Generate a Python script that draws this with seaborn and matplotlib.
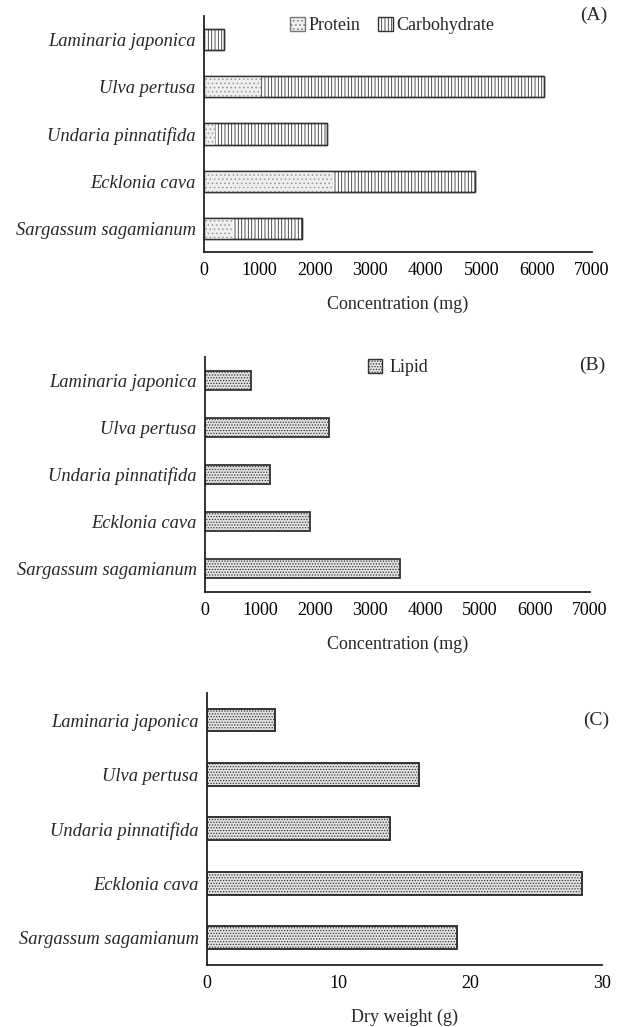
import matplotlib
matplotlib.use("Agg")
import matplotlib.pyplot as plt
import seaborn as sns
import pandas as pd
from matplotlib.patches import Patch

sns.set_theme(style="white")
plt.rcParams["font.family"] = ["Liberation Serif", "DejaVu Serif"]
plt.rcParams["hatch.linewidth"] = 0.6

species = ["Laminaria japonica", "Ulva pertusa", "Undaria pinnatifida",
           "Ecklonia cava", "Sargassum sagamianum"]
protein = [30, 1030, 200, 2330, 500]
carbohydrate = [330, 5110, 2020, 2560, 1270]
lipid = [840, 2250, 1180, 1910, 3545]
dry_weight = [5.2, 16.1, 13.9, 28.5, 19.0]

totals = [p + c for p, c in zip(protein, carbohydrate)]
df = pd.DataFrame({"species": species, "protein": protein, "total": totals,
                   "lipid": lipid, "dry": dry_weight})

fig = plt.figure(figsize=(6.23, 10.27), dpi=100)
axA = fig.add_axes([0.3274, 0.7546, 0.623, 0.2298])
axB = fig.add_axes([0.329, 0.4236, 0.618, 0.2288])
axC = fig.add_axes([0.332, 0.0604, 0.634, 0.265])

FS = 13.3
edge = "#333333"


def style(ax, xmax, ticks, xlabel):
    ax.set_xlim(0, xmax)
    ax.set_ylim(4.5, -0.5)
    ax.set_xticks(ticks)
    ax.set_xticklabels([str(t) for t in ticks], fontsize=13)
    ax.set_yticks(range(len(species)))
    ax.set_yticklabels(species, fontsize=FS, style="italic")
    ax.set_ylabel("")
    ax.set_xlabel(xlabel, fontsize=13, labelpad=12)
    for s in ["top", "right"]:
        ax.spines[s].set_visible(False)
    for s in ["left", "bottom"]:
        ax.spines[s].set_color("#222222")
        ax.spines[s].set_linewidth(1.3)
    ax.tick_params(axis="x", direction="in", length=4, color="#cccccc",
                   pad=7, labelcolor="black")
    ax.tick_params(axis="y", direction="out", length=0, pad=6)


# (A) stacked protein + carbohydrate
sns.barplot(data=df, y="species", x="total", orient="h", ax=axA,
            color="white", edgecolor=edge, linewidth=1.0, hatch="|||||",
            width=0.45, errorbar=None)
sns.barplot(data=df, y="species", x="protein", orient="h", ax=axA,
            color="#eeeeee", edgecolor="#9a9a9a", linewidth=0, hatch="....",
            width=0.45, errorbar=None)
# outline of each stacked bar
sns.barplot(data=df, y="species", x="total", orient="h", ax=axA,
            color=edge, fill=False, linewidth=1.0, width=0.45, errorbar=None)
style(axA, 7000, [0, 1000, 2000, 3000, 4000, 5000, 6000, 7000],
      "Concentration (mg)")
axA.legend(handles=[Patch(facecolor="#eeeeee", edgecolor="#777777", hatch="....", label="Protein"),
                    Patch(facecolor="white", edgecolor="#333333", hatch="|||||", label="Carbohydrate")],
           loc="upper left", bbox_to_anchor=(0.18, 1.065), ncol=2, frameon=False,
           fontsize=13, handlelength=0.8, handleheight=0.8,
           handletextpad=0.2, columnspacing=1.0)
axA.text(1.04, 1.04, "(A)", transform=axA.transAxes, ha="right", va="top",
         fontsize=14)

# (B) lipid
sns.barplot(data=df, y="species", x="lipid", orient="h", ax=axB,
            color="#e2e2e2", edgecolor=edge, linewidth=1.3, hatch="......",
            width=0.42, errorbar=None)
style(axB, 7000, [0, 1000, 2000, 3000, 4000, 5000, 6000, 7000],
      "Concentration (mg)")
axB.legend(handles=[Patch(facecolor="#e2e2e2", edgecolor=edge, hatch="......", label="Lipid")],
           loc="upper left", bbox_to_anchor=(0.38, 1.06), frameon=False,
           fontsize=13, handlelength=0.8, handleheight=0.8,
           handletextpad=0.4)
axB.text(1.04, 1.0, "(B)", transform=axB.transAxes, ha="right", va="top",
         fontsize=14)

# (C) dry weight
sns.barplot(data=df, y="species", x="dry", orient="h", ax=axC,
            color="#e2e2e2", edgecolor=edge, linewidth=1.4, hatch="......",
            width=0.42, errorbar=None)
style(axC, 30, [0, 10, 20, 30], "Dry weight (g)")
axC.text(1.02, 0.93, "(C)", transform=axC.transAxes, ha="right", va="top",
         fontsize=14)

fig.savefig("out.png", dpi=100)
